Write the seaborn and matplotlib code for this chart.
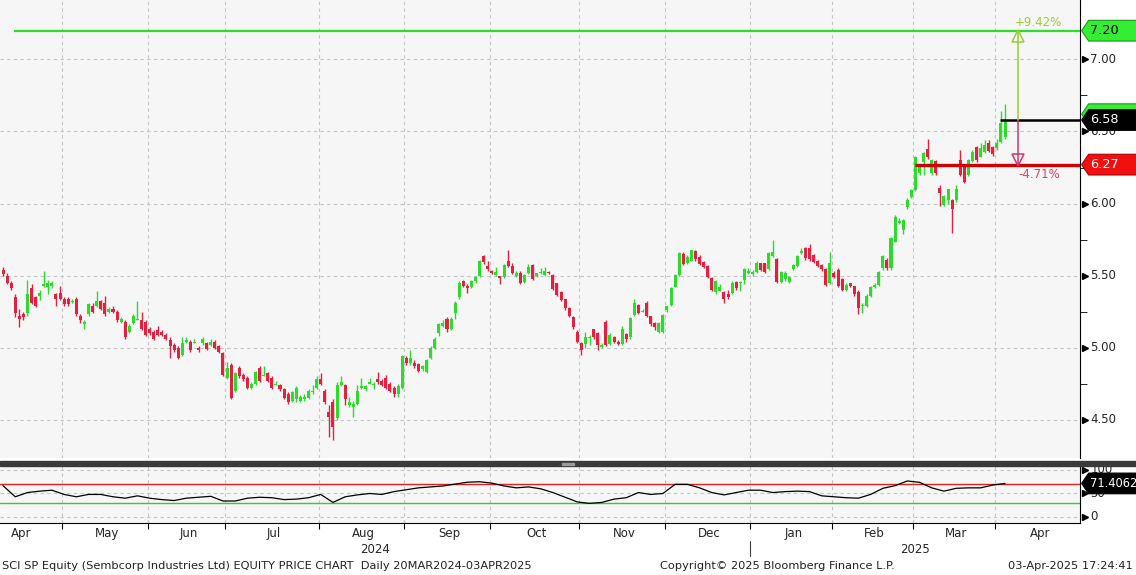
import numpy as np
import pandas as pd
import matplotlib
matplotlib.use("Agg")
import matplotlib.pyplot as plt
import matplotlib.transforms as mtransforms
from matplotlib.patches import Polygon, Rectangle
import seaborn as sns

# SGX closed days (trading-day axis like the terminal chart)
HOLIDAYS = ["2024-03-29", "2024-04-10", "2024-05-01", "2024-05-22", "2024-06-17",
            "2024-08-09", "2024-10-31", "2024-12-25", "2025-01-01", "2025-01-29",
            "2025-01-30", "2025-03-31", "2025-04-18", "2025-05-01", "2025-05-12"]
LAST_DATE = "2025-04-03"

opens = [
    5.54, 5.50, 5.45, 5.35, 5.22, 5.23, 5.24, 5.41, 5.35, 5.36, 5.43, 5.42, 5.43, 5.37, 5.38, 5.34, 5.34, 5.315,
    5.34, 5.22, 5.16, 5.23, 5.29, 5.29, 5.32, 5.31, 5.25, 5.27, 5.25, 5.18, 5.18, 5.11, 5.17, 5.19, 5.19, 5.18,
    5.13, 5.11, 5.12, 5.11, 5.09, 5.05, 5.02, 5.00, 4.95, 5.04, 5.04, 5.03, 5.00, 5.03, 5.03, 5.02, 5.04, 5.01,
    4.96, 4.79, 4.88, 4.70, 4.86, 4.81, 4.79, 4.72, 4.75, 4.86, 4.80, 4.82, 4.79, 4.74, 4.74, 4.71, 4.68, 4.63,
    4.64, 4.63, 4.64, 4.65, 4.69, 4.72, 4.78, 4.70, 4.55, 4.62, 4.51, 4.74, 4.74, 4.60, 4.59, 4.61, 4.72, 4.71,
    4.75, 4.74, 4.78, 4.77, 4.79, 4.75, 4.72, 4.68, 4.72, 4.93, 4.89, 4.89, 4.885, 4.85, 4.83, 4.925, 5.00,
    5.10, 5.15, 5.20, 5.13, 5.24, 5.35, 5.46, 5.43, 5.42, 5.46, 5.50, 5.635, 5.566, 5.534, 5.503, 5.497, 5.487,
    5.603, 5.566, 5.50, 5.52, 5.457, 5.515, 5.573, 5.497, 5.515, 5.503, 5.527, 5.503, 5.446, 5.388, 5.334, 5.272,
    5.21, 5.11, 5.034,
    5.024, 5.064, 5.126, 5.103, 5.006, 5.18, 5.024, 5.07, 5.04, 5.024, 5.094, 5.07, 5.226, 5.295, 5.25, 5.307,
    5.219, 5.172, 5.11, 5.11, 5.26, 5.295, 5.422, 5.503, 5.65, 5.585, 5.603, 5.672, 5.63, 5.596, 5.566, 5.48,
    5.388, 5.395, 5.388, 5.372,
    5.381, 5.457, 5.445, 5.469, 5.52, 5.51, 5.527, 5.589, 5.585, 5.543, 5.635, 5.612, 5.457, 5.473, 5.457, 5.543,
    5.566, 5.654, 5.689, 5.689, 5.642, 5.603, 5.573, 5.543, 5.45, 5.52, 5.538, 5.473, 5.399, 5.446, 5.427, 5.388,
    5.285, 5.288, 5.358,
    5.422, 5.434, 5.55, 5.607, 5.55, 5.735, 5.867, 5.816, 5.978, 6.047, 6.094, 6.209, 6.29, 6.376, 6.214, 6.297,
    6.105, 5.99, 6.024, 6.024, 6.024, 6.302, 6.26, 6.198, 6.297, 6.394, 6.325, 6.36, 6.422, 6.394, 6.383, 6.429,
    6.464,
]
closes = [
    5.51, 5.45, 5.41, 5.24, 5.20, 5.21, 5.37, 5.31, 5.29, 5.38, 5.44, 5.45, 5.45, 5.34, 5.34, 5.30, 5.30, 5.32,
    5.23, 5.19, 5.18, 5.30, 5.25, 5.32, 5.27, 5.23, 5.27, 5.25, 5.19, 5.20, 5.07, 5.15, 5.22, 5.20, 5.13, 5.09,
    5.10, 5.06, 5.09, 5.09, 5.06, 5.01, 4.98, 4.93, 5.03, 5.05, 4.98, 5.04, 4.98, 5.06, 4.99, 5.04, 5.00, 4.97,
    4.81, 4.86, 4.65, 4.82, 4.80, 4.78, 4.72, 4.75, 4.83, 4.77, 4.81, 4.77, 4.72, 4.75, 4.71, 4.65, 4.62, 4.69,
    4.72, 4.66, 4.66, 4.70, 4.70, 4.78, 4.75, 4.62, 4.52, 4.45, 4.74, 4.76, 4.64, 4.62, 4.61, 4.70, 4.73, 4.73,
    4.76, 4.75, 4.76, 4.74, 4.72, 4.70, 4.68, 4.73, 4.94, 4.89, 4.925, 4.87, 4.84, 4.87, 4.91, 5.00, 5.06,
    5.16, 5.17, 5.13, 5.20, 5.31, 5.45, 5.43, 5.41, 5.46, 5.49, 5.60, 5.596, 5.543, 5.515, 5.527, 5.48, 5.573,
    5.566, 5.515, 5.515, 5.45, 5.503, 5.561, 5.473, 5.515, 5.527, 5.534, 5.515, 5.404, 5.365, 5.33, 5.272, 5.219,
    5.14, 5.04, 4.983,
    5.07, 5.075, 5.07, 5.017, 5.017, 5.017, 5.087, 5.04, 5.024, 5.126, 5.057, 5.203, 5.307, 5.242, 5.256, 5.219,
    5.163, 5.14, 5.172, 5.226, 5.288, 5.41, 5.503, 5.654, 5.58, 5.63, 5.677, 5.612, 5.58, 5.561, 5.492, 5.399,
    5.464, 5.422, 5.334, 5.348,
    5.45, 5.411, 5.45, 5.543, 5.534, 5.527, 5.585, 5.538, 5.527, 5.654, 5.666, 5.457, 5.527, 5.515, 5.492, 5.573,
    5.635, 5.672, 5.619, 5.612, 5.596, 5.566, 5.543, 5.434, 5.585, 5.492, 5.427, 5.399, 5.434, 5.427, 5.372, 5.272,
    5.29, 5.358, 5.418,
    5.434, 5.526, 5.635, 5.55, 5.758, 5.908, 5.881, 5.885, 6.024, 6.094, 6.325, 6.256, 6.353, 6.325, 6.302, 6.214,
    6.07, 6.052, 6.098, 5.959, 6.098, 6.198, 6.151, 6.302, 6.36, 6.302, 6.383, 6.406, 6.367, 6.344, 6.422, 6.56,
    6.58,
]
highs = [
    5.56, 5.52, 5.46, 5.37, 5.27, 5.25, 5.47, 5.44, 5.36, 5.40, 5.53, 5.47, 5.46, 5.38, 5.43, 5.35, 5.35, 5.34,
    5.35, 5.23, 5.19, 5.31, 5.31, 5.39, 5.33, 5.36, 5.28, 5.29, 5.26, 5.21, 5.19, 5.16, 5.23, 5.32, 5.25, 5.19,
    5.14, 5.12, 5.15, 5.12, 5.10, 5.07, 5.03, 5.01, 5.07, 5.07, 5.05, 5.06, 5.01, 5.07, 5.04, 5.06, 5.05, 5.02,
    4.97, 4.90, 4.89, 4.83, 4.87, 4.82, 4.80, 4.76, 4.84, 4.87, 4.87, 4.83, 4.80, 4.77, 4.75, 4.72, 4.69, 4.70,
    4.73, 4.67, 4.68, 4.71, 4.74, 4.80, 4.82, 4.71, 4.60, 4.64, 4.76, 4.80, 4.75, 4.66, 4.63, 4.74, 4.79, 4.74,
    4.79, 4.76, 4.83, 4.78, 4.81, 4.76, 4.73, 4.75, 4.95, 4.94, 4.98, 4.91, 4.89, 4.88, 4.92, 5.01, 5.07,
    5.17, 5.19, 5.21, 5.21, 5.32, 5.46, 5.47, 5.44, 5.47, 5.50, 5.61, 5.64, 5.60, 5.54, 5.56, 5.50, 5.58,
    5.677, 5.59, 5.53, 5.53, 5.51, 5.58, 5.58, 5.52, 5.55, 5.56, 5.53, 5.51, 5.45, 5.39, 5.34, 5.28,
    5.22, 5.12, 5.04,
    5.11, 5.09, 5.13, 5.11, 5.03, 5.19, 5.10, 5.08, 5.05, 5.15, 5.10, 5.21, 5.34, 5.30, 5.27, 5.32,
    5.22, 5.18, 5.18, 5.23, 5.29, 5.42, 5.51, 5.66, 5.66, 5.64, 5.68, 5.68, 5.64, 5.60, 5.57, 5.49,
    5.47, 5.44, 5.39, 5.40,
    5.46, 5.46, 5.46, 5.55, 5.55, 5.54, 5.60, 5.59, 5.59, 5.66, 5.747, 5.62, 5.53, 5.53, 5.50, 5.58,
    5.64, 5.69, 5.70, 5.72, 5.65, 5.61, 5.58, 5.55, 5.66, 5.53, 5.55, 5.48, 5.45, 5.45, 5.43, 5.40,
    5.31, 5.37, 5.43,
    5.45, 5.53, 5.64, 5.62, 5.77, 5.92, 5.90, 5.89, 6.04, 6.10, 6.33, 6.27, 6.36, 6.445, 6.31, 6.30,
    6.13, 6.06, 6.10, 6.03, 6.13, 6.37, 6.27, 6.31, 6.37, 6.40, 6.42, 6.44, 6.44, 6.40, 6.45, 6.64,
    6.69,
]
lows = [
    5.50, 5.44, 5.40, 5.21, 5.14, 5.19, 5.22, 5.30, 5.28, 5.33, 5.42, 5.37, 5.41, 5.29, 5.33, 5.29, 5.29, 5.31,
    5.22, 5.17, 5.13, 5.22, 5.24, 5.28, 5.26, 5.22, 5.24, 5.24, 5.18, 5.17, 5.06, 5.10, 5.16, 5.19, 5.12, 5.08,
    5.09, 5.05, 5.08, 5.08, 5.05, 4.93, 4.97, 4.92, 4.94, 5.03, 4.97, 5.03, 4.97, 5.02, 4.98, 5.01, 4.99, 4.96,
    4.80, 4.78, 4.64, 4.69, 4.79, 4.77, 4.71, 4.71, 4.74, 4.76, 4.80, 4.76, 4.71, 4.74, 4.70, 4.64, 4.61, 4.62,
    4.62, 4.62, 4.63, 4.64, 4.68, 4.71, 4.74, 4.61, 4.38, 4.36, 4.50, 4.73, 4.60, 4.59, 4.52, 4.60, 4.71, 4.70,
    4.75, 4.71, 4.75, 4.73, 4.71, 4.69, 4.66, 4.66, 4.71, 4.88, 4.88, 4.86, 4.83, 4.84, 4.82, 4.92, 4.99,
    5.08, 5.14, 5.11, 5.12, 5.20, 5.34, 5.42, 5.38, 5.41, 5.45, 5.49, 5.58, 5.53, 5.51, 5.50, 5.44, 5.48,
    5.56, 5.51, 5.49, 5.44, 5.45, 5.51, 5.47, 5.49, 5.51, 5.50, 5.51, 5.40, 5.36, 5.32, 5.26, 5.21,
    5.13, 5.03, 4.95,
    5.00, 5.02, 5.06, 4.98, 5.00, 5.01, 5.02, 5.03, 5.02, 5.02, 5.04, 5.06, 5.22, 5.23, 5.25, 5.21,
    5.15, 5.12, 5.10, 5.10, 5.25, 5.29, 5.42, 5.50, 5.57, 5.58, 5.60, 5.60, 5.57, 5.55, 5.48, 5.39,
    5.37, 5.39, 5.31, 5.34,
    5.37, 5.40, 5.39, 5.44, 5.51, 5.50, 5.52, 5.53, 5.52, 5.54, 5.63, 5.45, 5.45, 5.46, 5.45, 5.54,
    5.56, 5.65, 5.61, 5.60, 5.59, 5.56, 5.53, 5.43, 5.44, 5.48, 5.42, 5.39, 5.39, 5.42, 5.36, 5.23,
    5.24, 5.28, 5.35,
    5.41, 5.43, 5.54, 5.54, 5.54, 5.73, 5.86, 5.79, 5.96, 6.04, 6.09, 6.20, 6.20, 6.31, 6.20, 6.20,
    5.98, 5.98, 6.00, 5.797, 6.01, 6.19, 6.14, 6.19, 6.29, 6.29, 6.32, 6.35, 6.36, 6.33, 6.37, 6.42,
    6.45,
]

# RSI, one value every 3rd session
rsi_step = 3
rsi_vals = [
    66.7, 43, 52, 55, 57, 48, 43, 48, 48, 43, 40, 45, 40, 37, 35, 40, 42, 44, 34, 34, 40, 42, 41, 37, 38,
    41, 48, 31, 43, 47, 50, 48, 54, 58, 62, 64, 66, 70, 74, 75, 72, 66, 62, 64, 60, 52, 42, 32, 29,
    31, 38, 41, 52, 48, 50, 69.5, 69.5, 62, 52, 47, 52, 57, 57, 52, 54, 55, 54, 45, 43, 41, 40, 48,
    61, 66.7, 76.6, 73.8, 62, 55, 61, 62, 62, 68, 71.4,
]

price_ticks = [4.5, 5.0, 5.5, 6.0, 6.5, 7.0]
rsi_ticks = [0, 50, 100]
target_level, last_level, stop_level = 7.20, 6.58, 6.27
hidden_tag_level = 6.62
up_pct, down_pct = "+9.42%", "-4.71%"
rsi_last = "71.4062"

GREEN = "#2bdc2b"
RED = "#e3203e"
GRID = "#c4c4c4"

# trading-day calendar
bday = pd.offsets.CustomBusinessDay(holidays=HOLIDAYS)
all_days = pd.date_range("2024-03-20", "2025-05-30", freq=bday)
n = len(closes)
last_pos = all_days.get_loc(pd.Timestamp(LAST_DATE))
first_pos = last_pos - n + 1
day_idx = np.arange(len(all_days)) - first_pos

df = pd.DataFrame({"i": np.arange(n), "open": opens, "high": highs,
                   "low": lows, "close": closes})
rsi_df = pd.DataFrame({"i": np.arange(0, n, rsi_step)[:len(rsi_vals)], "rsi": rsi_vals})

cal = pd.DataFrame({"date": all_days, "i": day_idx})
grp = cal.groupby([cal.date.dt.year, cal.date.dt.month])
month_first = grp["i"].first().reset_index(drop=True)
month_names = grp["date"].first().dt.strftime("%b").reset_index(drop=True)

XMIN, XMAX = -0.74, 264.4
YMIN, YMAX = 4.233, 7.413
# month separators sit between the last session of a month and the first of the next
boundaries = [m - 0.5 for m in month_first if XMIN < m - 0.5 < XMAX]

sns.set_style("white")
plt.rcParams["font.family"] = ["DejaVu Sans"]

W, H = 1136, 575
fig = plt.figure(figsize=(W / 100, H / 100), dpi=100)
ax = fig.add_axes([0, 1 - 458 / H, 1080 / W, 458 / H])
ax2 = fig.add_axes([0, 1 - 523 / H, 1080 / W, 57 / H])
fig.patches.append(Rectangle((0, 1 - 466 / H), 1, 5 / H, transform=fig.transFigure,
                             color="#3a3a3a", zorder=5))
fig.patches.append(Rectangle((562 / W, 1 - 464.5 / H), 12 / W, 1.5 / H,
                             transform=fig.transFigure, color="#9a9a9a", zorder=6))

for a in (ax, ax2):
    a.set_facecolor("#f6f6f6")
    for s in ("top", "left"):
        a.spines[s].set_visible(False)
    a.spines["right"].set_color("black")
    a.set_xticks(boundaries)
    a.set_xlim(XMIN, XMAX)
    a.grid(True, color=GRID, linestyle=(0, (3, 3)), linewidth=0.8)
    a.set_axisbelow(True)
ax.spines["bottom"].set_visible(False)
ax2.spines["bottom"].set_color("black")

# candles
up = df.close >= df.open
cols = np.where(up, GREEN, RED)
ax.vlines(df.i, df.low, df.high, colors=cols, linewidth=1.0, zorder=3)
body = (df.close - df.open).abs().clip(lower=0.007)
ax.bar(df.i, body, bottom=np.minimum(df.open, df.close), width=0.74, color=cols,
       linewidth=0, zorder=3)

ax.set_yticks(price_ticks)
ax.set_yticks([4.75, 5.25, 5.75, 6.25, 6.75], minor=True)
ax.set_ylim(YMIN, YMAX)
ax.set_xlim(XMIN, XMAX)
ax.tick_params(axis="x", length=0, labelbottom=False)
ax.tick_params(axis="y", which="major", length=0, labelleft=False, labelright=False)
ax.tick_params(axis="y", which="minor", length=5, right=True, left=False, direction="out",
               color="black")

tr = mtransforms.blended_transform_factory(ax.transAxes, ax.transData)
for v in price_ticks:
    ax.plot(1.0045, v, marker=">", ms=4.5, color="black", transform=tr, clip_on=False)
    ax.text(1.0095, v, f"{v:.2f}", transform=tr, va="center", ha="left", fontsize=8.5)

# level lines
ax.hlines(target_level, 2.7, XMAX, color="#28e028", linewidth=1.6, zorder=4)
ax.hlines(stop_level, 223.9, XMAX, color="#d10000", linewidth=2.4, zorder=4)
ax.hlines(last_level, 244.8, XMAX, color="black", linewidth=1.8, zorder=4)

arrow_i = 249.3
ax.vlines(arrow_i, last_level, target_level, color="#9acd32", linewidth=1.1, zorder=4)
ax.vlines(arrow_i, stop_level, last_level, color="#d6336c", linewidth=1.1, zorder=4)
ax.plot(arrow_i, target_level - 0.034, marker="^", ms=9, mfc="none", mec="#9acd32",
        mew=1.1, zorder=5)
ax.plot(arrow_i, stop_level + 0.034, marker="v", ms=9, mfc="none", mec="#d6336c",
        mew=1.1, zorder=5)
ax.text(arrow_i + 5, target_level + 0.055, up_pct, color="#9acd32", fontsize=8.5,
        ha="center", va="center")
ax.text(arrow_i + 5, stop_level - 0.068, down_pct, color="#e0405e", fontsize=8.5,
        ha="center", va="center")


def tag(axis, trans, y, hh, label, face, edge, tcolor, z, fs=9.3):
    pts = [(1.0015, y), (1.008, y + hh), (1.06, y + hh), (1.06, y - hh), (1.008, y - hh)]
    axis.add_patch(Polygon(pts, closed=True, transform=trans, facecolor=face, edgecolor=edge,
                           linewidth=0.8, clip_on=False, zorder=z))
    if label:
        axis.text(1.0095, y, label, transform=trans, va="center", ha="left", fontsize=fs,
                  color=tcolor, zorder=z + 1, clip_on=False)


tag(ax, tr, target_level, 0.072, f"{target_level:.2f}", "#33ee33", "#169a16", "black", 10)
tag(ax, tr, hidden_tag_level, 0.072, "", "#33ee33", "#169a16", "black", 10)
tag(ax, tr, last_level, 0.072, f"{last_level:.2f}", "black", "black", "white", 12)
tag(ax, tr, stop_level, 0.072, f"{stop_level:.2f}", "#f01010", "#b00000", "white", 12)

# RSI panel
sns.lineplot(data=rsi_df, x="i", y="rsi", ax=ax2, color="black", linewidth=0.9, zorder=3)
ax2.axhline(70, color="#dd2020", linewidth=1.0, zorder=2)
ax2.axhline(30, color="#33cc33", linewidth=1.0, zorder=2)
ax2.set_yticks(rsi_ticks)
ax2.set_ylim(-12.8, 108.5)
ax2.set_xlim(XMIN, XMAX)
ax2.set_xlabel("")
ax2.set_ylabel("")
ax2.tick_params(axis="y", length=0, labelleft=False, labelright=False)
ax2.tick_params(axis="x", length=4, direction="out", color="black", labelbottom=False,
                bottom=True)
tr2 = mtransforms.blended_transform_factory(ax2.transAxes, ax2.transData)
for v in rsi_ticks:
    ax2.plot(1.0045, v, marker=">", ms=4.5, color="black", transform=tr2, clip_on=False)
    ax2.text(1.0095, v, f"{v}", transform=tr2, va="center", ha="left", fontsize=8.5)
tag(ax2, tr2, float(rsi_last), 22, rsi_last, "black", "black", "white", 12, fs=8.3)

# month / year labels
trx = mtransforms.blended_transform_factory(ax2.transData, ax2.transAxes)
starts = list(month_first)
for k in range(len(starts) - 1):
    c = (starts[k] + starts[k + 1]) / 2
    if XMIN + 2 < c < XMAX:
        ax2.text(c, -0.18, month_names[k], transform=trx, ha="center", va="center",
                 fontsize=8.5)
jan_i = cal.loc[cal.date >= "2025-01-01", "i"].iloc[0] - 0.5
ax2.plot([jan_i, jan_i], [-0.32, -0.58], color="#444444", linewidth=0.8, transform=trx,
         clip_on=False)
ax2.text((XMIN + jan_i) / 2, -0.46, "2024", transform=trx, ha="center", va="center",
         fontsize=8.5)
ax2.text((jan_i + XMAX) / 2, -0.46, "2025", transform=trx, ha="center", va="center",
         fontsize=8.5)

fy = 1 - 566 / H
fig.text(2 / W, fy, "SCI SP Equity (Sembcorp Industries Ltd) EQUITY PRICE CHART  Daily 20MAR2024-03APR2025",
         ha="left", va="center", fontsize=8.2, color="#222222")
fig.text(777 / W, fy, "Copyright\u00a9 2025 Bloomberg Finance L.P.", ha="center", va="center",
         fontsize=8.2, color="#222222")
fig.text(1133 / W, fy, "03-Apr-2025 17:24:41", ha="right", va="center", fontsize=8.2,
         color="#222222")

fig.savefig("out.png", dpi=100, facecolor="white")
